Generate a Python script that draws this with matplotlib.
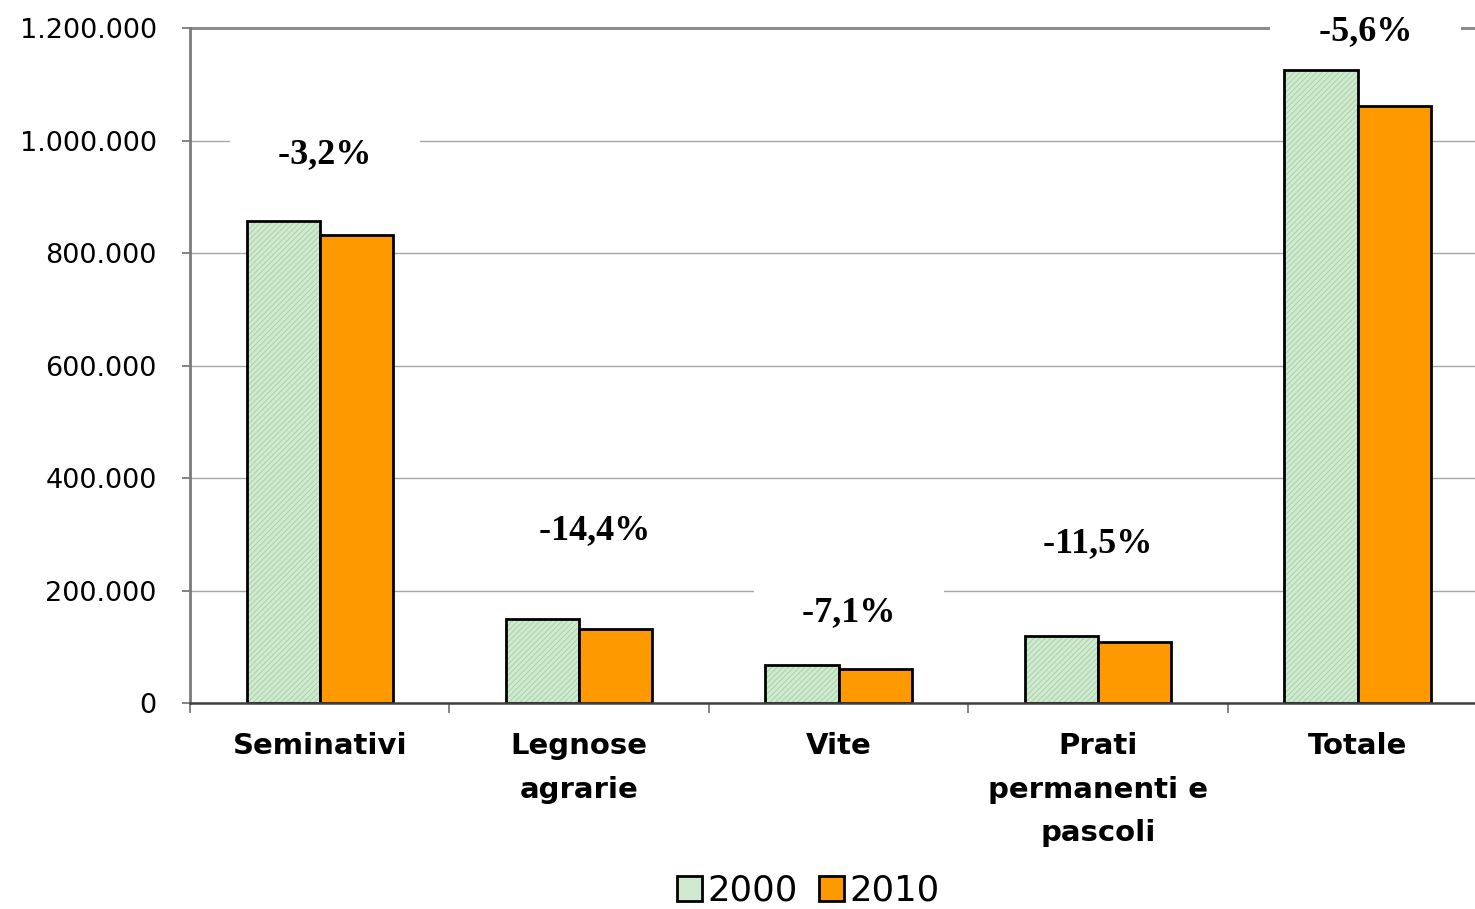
import matplotlib.pyplot as plt
import numpy as np
from matplotlib.patches import Patch

# Dati (superficie, ettari)
categorie = ['Seminativi', 'Legnose\nagrarie', 'Vite', 'Prati\npermanenti e\npascoli', 'Totale']
anno_2000 = [857000, 149000, 67500, 119000, 1125000]
anno_2010 = [832000, 131000, 60500, 108000, 1061000]
variazioni = ['-3,2%', '-14,4%', '-7,1%', '-11,5%', '-5,6%']
y_ticks = [0, 200000, 400000, 600000, 800000, 1000000, 1200000]

# posizione delle etichette percentuali (x offset, y in unità dati)
pos_etichette = [(0.02, 975000), (1.06, 307000), (2.04, 160000), (3.0, 283000), (4.03, 1193000)]

verde = '#d0ead0'
verde_tratteggio = '#a3cfa3'
arancio = '#ff9900'

plt.rcParams['hatch.linewidth'] = 0.6

fig = plt.figure(figsize=(14.75, 9.09), dpi=100)
ax = fig.add_axes([0.1288, 0.2266, 0.8795, 0.7425])

x = np.arange(len(categorie))
w = 0.282

# barre 2000: riempimento tratteggiato e poi bordo nero
ax.bar(x - w/2, anno_2000, w, color=verde, edgecolor=verde_tratteggio, hatch='//////',
       linewidth=0, zorder=2)
ax.bar(x - w/2, anno_2000, w, fill=False, edgecolor='black', linewidth=2, zorder=2.1)
ax.bar(x + w/2, anno_2010, w, color=arancio, edgecolor='black', linewidth=2, zorder=2.1)

ax.set_xlim(-0.5, len(categorie) - 0.5)
ax.set_ylim(0, 1200000)
ax.set_yticks(y_ticks)
ax.set_yticklabels([f'{v:,}'.replace(',', '.') for v in y_ticks],
                   fontsize=19.5, family='DejaVu Sans')
ax.tick_params(axis='y', direction='out', length=6, width=1.2, color='#707070', pad=18)

ax.set_xticks(x)
ax.set_xticklabels(categorie, fontsize=21, fontweight='bold', family='DejaVu Sans',
                   linespacing=1.7, va='top')
ax.tick_params(axis='x', which='major', length=0, pad=21)
ax.set_xticks(np.arange(-0.5, len(categorie)), minor=True)
ax.tick_params(axis='x', which='minor', direction='out', length=7, width=1.2, color='#707070')

ax.grid(axis='y', color='#a6a6a6', linewidth=1, zorder=0.5)
ax.set_axisbelow(True)
ax.axhline(1200000, color='#8c8c8c', linewidth=2.2, zorder=0.6, clip_on=False)

for s in ['top', 'right']:
    ax.spines[s].set_visible(False)
ax.spines['left'].set_color('#7a7a7a')
ax.spines['left'].set_linewidth(2)
ax.spines['bottom'].set_color('#404040')
ax.spines['bottom'].set_linewidth(1.8)

for testo, (dx, yy) in zip(variazioni, pos_etichette):
    ax.text(dx, yy, '    ' + testo + '    ', ha='center', va='center', fontsize=26,
            fontweight='bold', family='Liberation Serif', zorder=1,
            bbox=dict(facecolor='white', edgecolor='none', boxstyle='square,pad=0.35'))

handles = [Patch(facecolor=verde, edgecolor='black', linewidth=2),
           Patch(facecolor=arancio, edgecolor='black', linewidth=2)]
fig.legend(handles, ['2000', '2010'], loc='lower center', bbox_to_anchor=(0.548, -0.022),
           ncol=2, frameon=False, fontsize=25.5, handlelength=0.72, handleheight=0.72,
           handletextpad=0.15, columnspacing=0.6, borderaxespad=0.2)

fig.savefig('out.png', dpi=100)
